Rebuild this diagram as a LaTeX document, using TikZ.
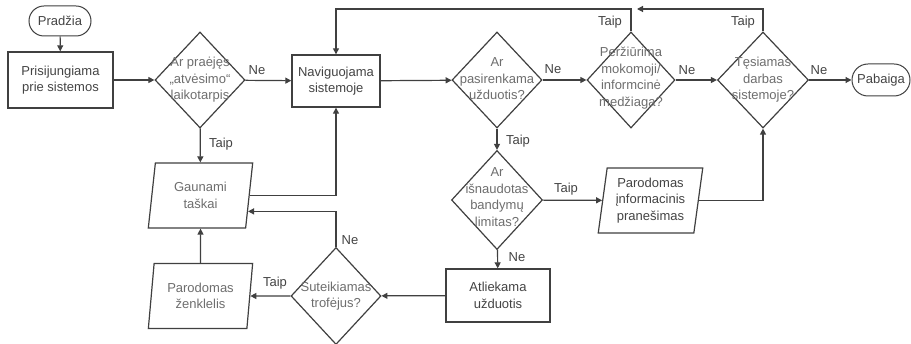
\documentclass[tikz,border=0pt]{standalone}
\usepackage{fontspec}
\setmainfont{Liberation Sans}
\usetikzlibrary{shapes.geometric,shapes.misc,arrows.meta,calc}
\definecolor{linec}{HTML}{404040}
\definecolor{boxtext}{HTML}{444444}
\definecolor{softtext}{HTML}{6E6E6E}

\begin{document}
\begin{tikzpicture}[x=1pt,y=-1pt,
  every node/.style={font=\fontsize{13}{16.5}\selectfont, text=boxtext},
  flow/.style={draw=linec, line width=1.2pt, -{Triangle[length=6pt,width=6pt]}},
  terminal/.style={rounded rectangle, draw=linec, line width=1.0pt, inner sep=0pt},
  process/.style={rectangle, draw=linec, line width=1.35pt, align=center, inner sep=0pt},
  decision/.style={diamond, draw=linec, line width=1.2pt, inner sep=0pt,
    minimum width=90pt, minimum height=96pt},
  dtext/.style={align=center, text=softtext, inner sep=0pt},
  io/.style={trapezium, trapezium left angle=81, trapezium right angle=99,
    trapezium stretches=true, draw=linec, line width=1.2pt, align=center,
    text=softtext, inner sep=0pt, minimum width=105pt, minimum height=65pt},
  lbl/.style={text=boxtext, inner sep=0pt},
]
\fill[white] (0,0) rectangle (911,344);
\useasboundingbox (0,0) rectangle (911,344);

% terminals
\node[terminal, minimum width=62pt, minimum height=30pt] (start) at (60,21) {Pradžia};
\node[terminal, minimum width=58pt, minimum height=32pt] (stop) at (881,80) {Pabaiga};

% process boxes
\node[process, minimum width=105pt, minimum height=56pt] (login) at (60.5,80) {Prisijungiama\\prie sistemos};
\node[process, minimum width=88pt, minimum height=52pt] (nav) at (336,81) {Naviguojama\\sistemoje};
\node[process, minimum width=104pt, minimum height=53pt] (task) at (498,295.5) {Atliekama\\užduotis};

% input/output
\node[io] (points) at (200.5,195.5) {Gaunami\\taškai};
\node[io] (badge) at (200.5,296) {Parodomas\\ženklelis};
\node[io, text=boxtext] (info) at (650.5,200.5) {Parodomas\\įnformacinis\\pranešimas};

% decisions
\node[decision] (d1) at (200,80) {};
\node[decision] (d2) at (497,80) {};
\node[decision, minimum width=88pt] (d3) at (631,80) {};
\node[decision, minimum width=91pt] (d4) at (763,80) {};
\node[decision, minimum width=91pt, minimum height=99pt] (d5) at (497,200) {};
\node[decision, minimum height=97pt] (d6) at (336,296) {};

\node[dtext] (d1t) at (200,80) {Ar praėjęs\\„atvėsimo“\\laikotarpis};
\node[dtext] (d2t) at (497,79) {Ar\\pasirenkama\\užduotis?};
\node[dtext] (d3t) at (631,78) {Peržiūrima\\mokomoji/\\informcinė\\medžiaga?};
\node[dtext] (d4t) at (763,80) {Tęsiamas\\darbas\\sistemoje?};
\node[dtext] (d5t) at (497,197) {Ar\\išnaudotas\\bandymų\\limitas?};
\node[dtext] (d6t) at (336,296) {Suteikiamas\\trofėjus?};

% helper points
\coordinate (topjoin) at (631,9);
\coordinate (tipD4) at (637,9);
\coordinate (ptsin) at ($(points.top right corner)!0.74!(points.bottom right corner)$);

% connectors
\draw[flow] (start) -- (login);
\draw[flow] (login) -- (d1);
\draw[flow] (d1) -- (nav);
\draw[flow] (d1) -- (points);
\draw[flow] (nav) -- (d2);
\draw[flow] (d2) -- (d3);
\draw[flow] (d3) -- (d4);
\draw[flow] (d4) -- (stop);
\draw[flow] (d3.north) -- (topjoin) -| (nav.north);
\draw[flow] (d4.north) |- (tipD4);
\draw[flow] (d2) -- (d5);
\draw[flow] (d5) -- (info);
\draw[flow] (info.east) -| (d4.south);
\draw[flow] (d5) -- (task);
\draw[flow] (task) -- (d6);
\draw[flow] (d6) -- (badge);
\draw[flow] (badge) -- (points);
\draw[flow] (d6.north) |- (ptsin);
\draw[flow] (points.east) -| (nav.south);

% branch labels
\node[lbl] (l1) at (257,70) {Ne};
\node[lbl] (l2) at (221,144) {Taip};
\node[lbl] (l3) at (553,69) {Ne};
\node[lbl] (l4) at (687,70) {Ne};
\node[lbl] (l5) at (819,70) {Ne};
\node[lbl] (l6) at (610,22) {Taip};
\node[lbl] (l7) at (743,22) {Taip};
\node[lbl] (l8) at (518,141) {Taip};
\node[lbl] (l9) at (566,189) {Taip};
\node[lbl] (l10) at (517,257) {Ne};
\node[lbl] (l11) at (275,283) {Taip};
\node[lbl] (l12) at (350,240) {Ne};
\end{tikzpicture}
\end{document}
